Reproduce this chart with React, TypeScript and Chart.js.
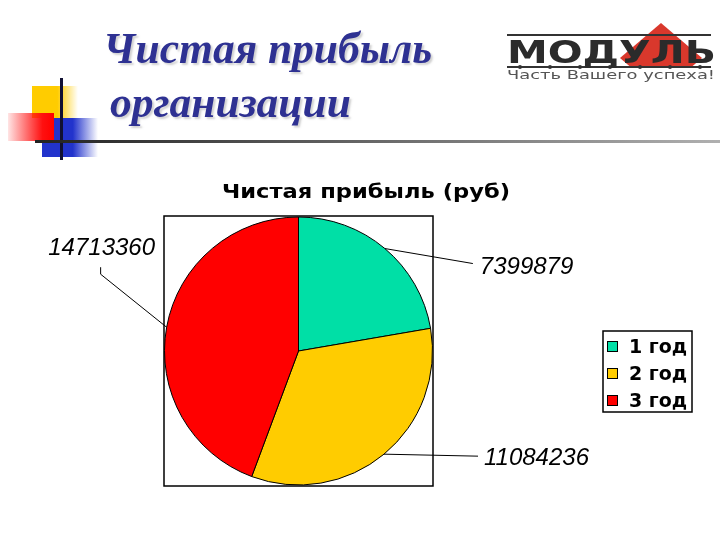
import { useEffect, useRef } from 'react';
import { Chart, registerables } from 'chart.js';

Chart.register(...registerables);

const categories = ['1 год', '2 год', '3 год'];
const profit = [7399879, 11084236, 14713360];
const sliceColors = ['#00dfa6', '#ffcc00', '#ff0000'];
const chartTitle = 'Чистая прибыль (руб)';
const slideTitle = ['Чистая прибыль', 'организации'];
const logoName = 'МОДУЛЬ';
const logoSlogan = 'Часть Вашего успеха!';

// leader-line geometry relative to the slice's outer-edge midpoint (styling only)
const leaderStyle = [
  { path: [[88, 15]], text: [95, 25], align: 'left' },
  { path: [[94, 2]], text: [100, 11], align: 'left' },
  { path: [[-66, -53], [-66, -60]], text: [-65, -72], align: 'center' },
];

const decorPlugin = {
  id: 'slideDecor',
  beforeDraw(chart: any) {
    const ctx = chart.ctx as CanvasRenderingContext2D;
    ctx.save();
    ctx.fillStyle = '#ffffff';
    ctx.fillRect(0, 0, chart.width, chart.height);

    // decorative squares
    let g = ctx.createLinearGradient(32, 0, 78, 0);
    g.addColorStop(0, '#ffcc00');
    g.addColorStop(0.55, '#ffcc00');
    g.addColorStop(1, 'rgba(255,204,0,0)');
    ctx.fillStyle = g;
    ctx.fillRect(32, 86, 46, 32);

    g = ctx.createLinearGradient(42, 0, 98, 0);
    g.addColorStop(0, '#2233cc');
    g.addColorStop(0.55, '#2233cc');
    g.addColorStop(1, 'rgba(34,51,204,0)');
    ctx.fillStyle = g;
    ctx.fillRect(42, 118, 56, 39);

    g = ctx.createLinearGradient(8, 0, 54, 0);
    g.addColorStop(0, 'rgba(255,0,0,0.1)');
    g.addColorStop(0.75, '#ff1010');
    g.addColorStop(1, '#ff0000');
    ctx.fillStyle = g;
    ctx.fillRect(8, 113, 46, 28);

    ctx.fillStyle = '#111133';
    ctx.fillRect(60, 78, 3, 82);

    g = ctx.createLinearGradient(35, 0, 720, 0);
    g.addColorStop(0, '#222222');
    g.addColorStop(1, '#b0b0b0');
    ctx.fillStyle = g;
    ctx.fillRect(35, 140, 685, 3);

    // slide title
    ctx.fillStyle = '#2e3192';
    ctx.shadowColor = 'rgba(0,0,0,0.18)';
    ctx.shadowOffsetX = 2;
    ctx.shadowOffsetY = 2;
    ctx.shadowBlur = 2;
    ctx.font = 'italic bold 43.5px "Liberation Serif"';
    ctx.textAlign = 'left';
    ctx.textBaseline = 'alphabetic';
    ctx.fillText(slideTitle[0], 103, 63);
    ctx.fillText(slideTitle[1], 110, 117);
    ctx.shadowColor = 'transparent';

    // logo
    ctx.save();
    ctx.beginPath();
    ctx.rect(600, 18, 120, 48);
    ctx.clip();
    ctx.fillStyle = '#d9382c';
    ctx.beginPath();
    ctx.moveTo(661, 23);
    ctx.lineTo(702, 58);
    ctx.lineTo(661, 93);
    ctx.lineTo(620, 58);
    ctx.closePath();
    ctx.fill();
    ctx.restore();

    ctx.fillStyle = '#333333';
    ctx.fillRect(507, 34, 204, 2);
    ctx.fillRect(507, 66, 204, 2);
    for (let x = 520; x <= 700; x += 30) {
      ctx.beginPath();
      ctx.arc(x, 67, 2, 0, Math.PI * 2);
      ctx.fill();
    }
    ctx.save();
    ctx.font = 'bold 32px "DejaVu Sans"';
    const w = ctx.measureText(logoName).width;
    ctx.translate(507, 63);
    ctx.scale(209 / w, 1);
    ctx.fillStyle = '#2b2b2b';
    ctx.fillText(logoName, 0, 0);
    ctx.restore();
    ctx.save();
    ctx.font = '12px "DejaVu Sans"';
    const w2 = ctx.measureText(logoSlogan).width;
    ctx.translate(507, 79);
    ctx.scale(208 / w2, 1);
    ctx.fillStyle = '#555555';
    ctx.fillText(logoSlogan, 0, 0);
    ctx.restore();

    // chart title (stretched to the reference's wider face)
    ctx.save();
    ctx.fillStyle = '#000000';
    ctx.font = 'bold 19px "DejaVu Sans"';
    ctx.textAlign = 'left';
    const tw = ctx.measureText(chartTitle).width;
    ctx.translate(222, 198);
    ctx.scale(288 / tw, 1);
    ctx.fillText(chartTitle, 0, 0);
    ctx.restore();

    // plot frame
    const a = chart.chartArea;
    ctx.strokeStyle = '#000000';
    ctx.lineWidth = 1.5;
    ctx.strokeRect(a.left, a.top, a.right - a.left, a.bottom - a.top);
    ctx.restore();
  },
  afterDraw(chart: any) {
    const ctx = chart.ctx as CanvasRenderingContext2D;
    const meta = chart.getDatasetMeta(0);
    const ds = chart.data.datasets[0];
    ctx.save();
    meta.data.forEach((arc: any, i: number) => {
      const mid = (arc.startAngle + arc.endAngle) / 2;
      const ex = arc.x + arc.outerRadius * Math.cos(mid);
      const ey = arc.y + arc.outerRadius * Math.sin(mid);
      const st = leaderStyle[i];
      ctx.strokeStyle = '#000000';
      ctx.lineWidth = 1;
      ctx.beginPath();
      ctx.moveTo(ex, ey);
      st.path.forEach((p) => ctx.lineTo(ex + p[0], ey + p[1]));
      ctx.stroke();
      ctx.fillStyle = '#000000';
      ctx.font = 'italic 24px "Liberation Sans"';
      ctx.textAlign = st.align as CanvasTextAlign;
      ctx.textBaseline = 'alphabetic';
      ctx.fillText(String(ds.data[i]), ex + st.text[0], ey + st.text[1]);
    });

    // legend
    const lx = 603, ly = 331, lw = 89, lh = 81;
    ctx.strokeStyle = '#000000';
    ctx.lineWidth = 1.5;
    ctx.strokeRect(lx, ly, lw, lh);
    ctx.font = 'bold 19px "DejaVu Sans"';
    ctx.textAlign = 'left';
    ctx.textBaseline = 'middle';
    chart.data.labels.forEach((lab: string, i: number) => {
      const cy = ly + 16 + i * 27;
      ctx.fillStyle = sliceColors[i];
      ctx.fillRect(607, cy - 6, 11, 11);
      ctx.strokeStyle = '#000000';
      ctx.lineWidth = 1;
      ctx.strokeRect(607.5, cy - 5.5, 10, 10);
      ctx.fillStyle = '#000000';
      ctx.fillText(lab, 629, cy + 1);
    });
    ctx.restore();
  },
};

export default function App() {
  const ref = useRef<HTMLCanvasElement | null>(null);
  useEffect(() => {
    if (!ref.current) return;
    const chart = new Chart(ref.current, {
      type: 'pie',
      data: {
        labels: categories,
        datasets: [
          {
            data: profit,
            backgroundColor: sliceColors,
            borderColor: '#000000',
            borderWidth: 1,
          },
        ],
      },
      options: {
        responsive: false,
        animation: false,
        layout: { padding: { left: 164, top: 216, right: 287, bottom: 54 } },
        plugins: {
          legend: { display: false },
          title: { display: false },
          tooltip: { enabled: false },
        },
      },
      plugins: [decorPlugin],
    });
    return () => chart.destroy();
  }, []);
  return (
    <div style={{ position: 'fixed', left: 0, top: 0, width: 720, height: 540, background: '#fff' }}>
      <canvas ref={ref} width={720} height={540} style={{ width: 720, height: 540 }} />
    </div>
  );
}
